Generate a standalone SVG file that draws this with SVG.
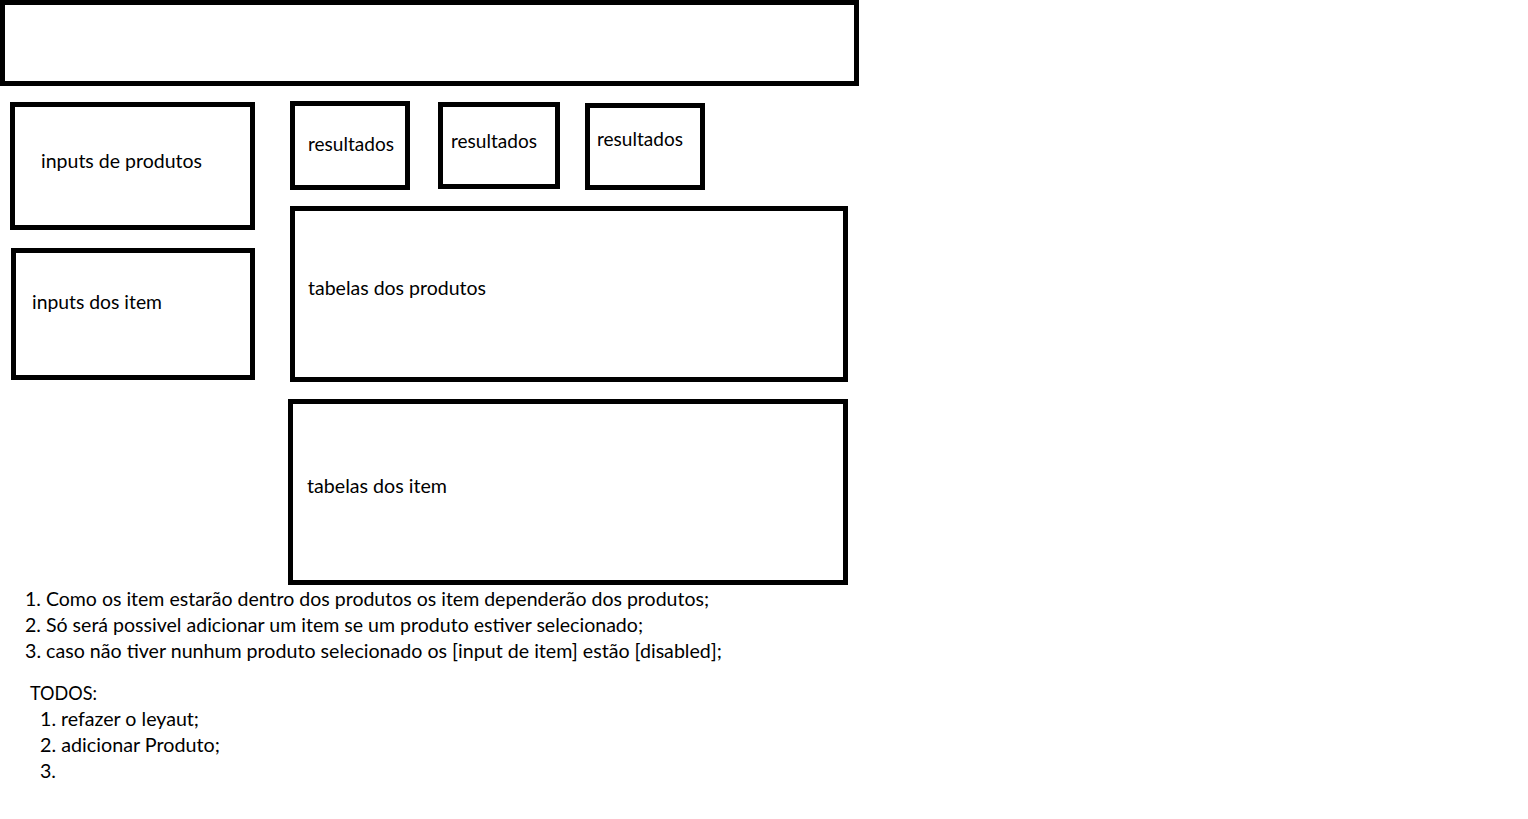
<svg xmlns="http://www.w3.org/2000/svg" width="1528" height="819" viewBox="0 0 1528 819">
<style>
.box{fill:#fff;stroke:#000;stroke-width:5}
.t{font-family:Lato,"Open Sans","Liberation Sans",sans-serif;font-size:20px;fill:#000}
</style>
<rect width="1528" height="819" fill="#fff"/>
<g id="header"><rect class="box" x="2.5" y="2.5" width="854" height="81"/></g>
<g id="inputs-produtos"><rect class="box" x="12.5" y="104.5" width="240" height="123"/>
<text class="t" x="41" y="168" textLength="161" lengthAdjust="spacingAndGlyphs">inputs de produtos</text></g>
<g id="resultados-1"><rect class="box" x="292.5" y="103.5" width="115" height="84"/>
<text class="t" x="308" y="151" textLength="86" lengthAdjust="spacingAndGlyphs">resultados</text></g>
<g id="resultados-2"><rect class="box" x="440.5" y="104.5" width="117" height="82"/>
<text class="t" x="451" y="148" textLength="86" lengthAdjust="spacingAndGlyphs">resultados</text></g>
<g id="resultados-3"><rect class="box" x="587.5" y="105.5" width="115" height="82"/>
<text class="t" x="597" y="146" textLength="86" lengthAdjust="spacingAndGlyphs">resultados</text></g>
<g id="inputs-item"><rect class="box" x="13.5" y="250.5" width="239" height="127"/>
<text class="t" x="32" y="309" textLength="130" lengthAdjust="spacingAndGlyphs">inputs dos item</text></g>
<g id="tabelas-produtos"><rect class="box" x="292.5" y="208.5" width="553" height="171"/>
<text class="t" x="308" y="295" textLength="178" lengthAdjust="spacingAndGlyphs">tabelas dos produtos</text></g>
<g id="tabelas-item"><rect class="box" x="290.5" y="401.5" width="555" height="181"/>
<text class="t" x="307" y="493" textLength="140" lengthAdjust="spacingAndGlyphs">tabelas dos item</text></g>
<g id="connectors"></g>
<g id="notes">
<text class="t" x="25" y="606" textLength="684" lengthAdjust="spacingAndGlyphs">1. Como os item estarão dentro dos produtos os item dependerão dos produtos;</text>
<text class="t" x="25" y="632" textLength="618" lengthAdjust="spacingAndGlyphs">2. Só será possivel adicionar um item se um produto estiver selecionado;</text>
<text class="t" x="25" y="658" textLength="697" lengthAdjust="spacingAndGlyphs">3. caso não tiver nunhum produto selecionado os [input de item] estão [disabled];</text>
<text class="t" x="30" y="700" textLength="67" lengthAdjust="spacingAndGlyphs">TODOS:</text>
<text class="t" x="40" y="726" textLength="159" lengthAdjust="spacingAndGlyphs">1. refazer o leyaut;</text>
<text class="t" x="40" y="752" textLength="180" lengthAdjust="spacingAndGlyphs">2. adicionar Produto;</text>
<text class="t" x="40" y="778" textLength="16" lengthAdjust="spacingAndGlyphs">3.</text>
</g>
</svg>
